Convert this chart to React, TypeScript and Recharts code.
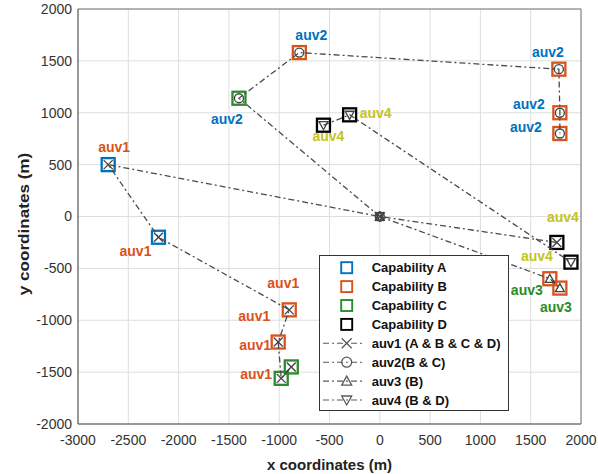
import {
	ScatterChart,
	Scatter,
	XAxis,
	YAxis,
	CartesianGrid,
	Label,
} from "recharts";

// axis ticks
const xTicks = [-3000, -2500, -2000, -1500, -1000, -500, 0, 500, 1000, 1500, 2000];
const yTicks = [-2000, -1500, -1000, -500, 0, 500, 1000, 1500, 2000];

// task locations by capability
const capabilityA = [
	{ x: -2700, y: 500 },
	{ x: -2200, y: -200 },
];
const capabilityB = [
	{ x: -900, y: -900 },
	{ x: -1010, y: -1210 },
	{ x: -800, y: 1580 },
	{ x: 1780, y: 1420 },
	{ x: 1790, y: 1000 },
	{ x: 1790, y: 800 },
	{ x: 1690, y: -600 },
	{ x: 1790, y: -690 },
];
const capabilityC = [
	{ x: -880, y: -1450 },
	{ x: -980, y: -1560 },
	{ x: -1400, y: 1140 },
];
const capabilityD = [
	{ x: -560, y: 880 },
	{ x: -300, y: 980 },
	{ x: 1760, y: -250 },
	{ x: 1900, y: -440 },
];

// vehicle routes
const auv1Route = [
	{ x: 1760, y: -250 },
	{ x: 0, y: 0 },
	{ x: -2700, y: 500 },
	{ x: -2200, y: -200 },
	{ x: -900, y: -900 },
	{ x: -1010, y: -1210 },
	{ x: -980, y: -1560 },
	{ x: -880, y: -1450 },
];
const auv2Route = [
	{ x: 0, y: 0 },
	{ x: -1400, y: 1140 },
	{ x: -800, y: 1580 },
	{ x: 1780, y: 1420 },
	{ x: 1790, y: 1000 },
	{ x: 1790, y: 800 },
];
const auv3Route = [
	{ x: 0, y: 0 },
	{ x: 1690, y: -600 },
	{ x: 1790, y: -690 },
];
const auv4Route = [
	{ x: -560, y: 880 },
	{ x: -300, y: 980 },
	{ x: 1900, y: -440 },
];
const auv4Start = [{ x: 0, y: 0 }];

// point labels
const pointLabels = [
	{ x: -2700, y: 500, text: "auv1" },
	{ x: -2200, y: -200, text: "auv1" },
	{ x: -900, y: -900, text: "auv1" },
	{ x: -900, y: -900, text: "auv1" },
	{ x: -1010, y: -1210, text: "auv1" },
	{ x: -980, y: -1560, text: "auv1" },
	{ x: -800, y: 1580, text: "auv2" },
	{ x: -1400, y: 1140, text: "auv2" },
	{ x: 1780, y: 1420, text: "auv2" },
	{ x: 1790, y: 1000, text: "auv2" },
	{ x: 1790, y: 800, text: "auv2" },
	{ x: -560, y: 880, text: "auv4" },
	{ x: -300, y: 980, text: "auv4" },
	{ x: 1760, y: -250, text: "auv4" },
	{ x: 1900, y: -440, text: "auv4" },
	{ x: 1690, y: -600, text: "auv3" },
	{ x: 1790, y: -690, text: "auv3" },
];
// pixel nudges for the labels above, same order
const labelNudge = [
	[6, -18], [-23, 14], [-6, -27], [-35, 6], [-23, 3], [-25, -4],
	[12, -18], [-12, 21], [-11, -17], [-31, -9], [-34, -7],
	[5, 11], [26, -2], [6, -25], [-34, -6],
	[-23, 11], [-4, 19],
];

const FONT = "'Liberation Sans', Arial, sans-serif";
const colA = "#0072BD";
const colB = "#D95319";
const colC = "#2a8c2a";
const colD = "#000000";
const labelColors: Record<string, string> = {
	auv1: "#D95319",
	auv2: "#0072BD",
	auv3: "#2a8c2a",
	auv4: "#c4c41c",
};
const glyphColor = "#404040";
const routeLine = {
	stroke: "#4a4a4a",
	strokeWidth: 1.3,
	strokeDasharray: "6 3 2 3",
};

const square = (color: string, size = 13) => (props: any) => {
	const { cx, cy } = props;
	if (cx == null || cy == null) return <g />;
	return (
		<rect
			x={cx - size / 2}
			y={cy - size / 2}
			width={size}
			height={size}
			fill="none"
			stroke={color}
			strokeWidth={2.3}
		/>
	);
};

const glyph = (kind: string, cx: number, cy: number, r = 4.5, color = glyphColor) => {
	if (kind === "x")
		return (
			<g stroke={color} strokeWidth={1.3}>
				<line x1={cx - r} y1={cy - r} x2={cx + r} y2={cy + r} />
				<line x1={cx - r} y1={cy + r} x2={cx + r} y2={cy - r} />
			</g>
		);
	if (kind === "o")
		return <circle cx={cx} cy={cy} r={r} fill="none" stroke={color} strokeWidth={1.3} />;
	if (kind === "up")
		return (
			<polygon
				points={`${cx},${cy - r} ${cx - r},${cy + r * 0.8} ${cx + r},${cy + r * 0.8}`}
				fill="none"
				stroke={color}
				strokeWidth={1.3}
			/>
		);
	return (
		<polygon
			points={`${cx},${cy + r} ${cx - r},${cy - r * 0.8} ${cx + r},${cy - r * 0.8}`}
			fill="none"
			stroke={color}
			strokeWidth={1.3}
		/>
	);
};

const glyphShape = (kind: string) => (props: any) => {
	const { cx, cy } = props;
	if (cx == null || cy == null) return <g />;
	return glyph(kind, cx, cy);
};

const LabelShape = (props: any) => {
	const { cx, cy, index, payload } = props;
	if (cx == null || cy == null) return <g />;
	const [dx, dy] = labelNudge[index] || [0, 0];
	return (
		<text
			x={cx + dx}
			y={cy + dy}
			textAnchor="middle"
			dominantBaseline="central"
			fontFamily={FONT}
			fontWeight="bold"
			fontSize={14}
			fill={labelColors[payload.text]}
		>
			{payload.text}
		</text>
	);
};

const legendItems = [
	{ kind: "sq", color: colA, text: "Capability A" },
	{ kind: "sq", color: colB, text: "Capability B" },
	{ kind: "sq", color: colC, text: "Capability C" },
	{ kind: "sq", color: colD, text: "Capability D" },
	{ kind: "x", color: "", text: "auv1 (A & B & C & D)" },
	{ kind: "o", color: "", text: "auv2(B & C)" },
	{ kind: "up", color: "", text: "auv3 (B)" },
	{ kind: "down", color: "", text: "auv4 (B & D)" },
];

const LegendBox = () => (
	<svg
		width={190}
		height={156}
		style={{ position: "absolute", left: 319, top: 255 }}
	>
		<rect x={0.5} y={0.5} width={189} height={155} fill="#fff" stroke="#333" strokeWidth={1} />
		{legendItems.map((item, i) => {
			const cy = 12.7 + i * 18.9;
			return (
				<g key={i}>
					{item.kind === "sq" ? (
						<rect x={22.2} y={cy - 5.5} width={11} height={11} fill="none" stroke={item.color} strokeWidth={1.9} />
					) : (
						<>
							<line x1={4} y1={cy} x2={44} y2={cy} {...routeLine} stroke="#5a5a5a" strokeWidth={1.1} />
							{glyph(item.kind, 27.7, cy, 5, "#5a5a5a")}
						</>
					)}
					<text
						x={52.7}
						y={cy}
						dominantBaseline="central"
						fontFamily={FONT}
						fontWeight="bold"
						fontSize={13}
						fill="#111"
					>
						{item.text}
					</text>
				</g>
			);
		})}
	</svg>
);

const tickStyle = { fontSize: 14, fill: "#333", fontFamily: FONT };

const YTitle = () => {
	const cx = 23;
	const cy = 224;
	return (
		<text
			transform={`translate(${cx},${cy}) rotate(-90) scale(1.14,1)`}
			textAnchor="middle"
			dominantBaseline="central"
			fontFamily={FONT}
			fontWeight="bold"
			fontSize={15}
			fill="#222"
		>
			y coordinates (m)
		</text>
	);
};

const App = () => {
	return (
		<div style={{ position: "absolute", left: 0, top: 0, width: 598, height: 474, background: "#fff" }}>
			<ScatterChart
				width={598}
				height={474}
				margin={{ top: 9, right: 17, bottom: 0, left: 8 }}
			>
				<CartesianGrid xAxisId="b" yAxisId="l" stroke="#dedede" />
				<XAxis
					xAxisId="b"
					type="number"
					dataKey="x"
					domain={[-3000, 2000]}
					ticks={xTicks}
					allowDataOverflow
					height={50}
					tickLine={false}
					tickMargin={5}
					axisLine={{ stroke: "#444" }}
					tick={tickStyle}
				>
					<Label
						value="x coordinates (m)"
						position="insideBottom"
						offset={4}
						style={{ fontFamily: FONT, fontWeight: "bold", fontSize: 15, fill: "#222" }}
					/>
				</XAxis>
				<XAxis
					xAxisId="bt"
					type="number"
					domain={[-3000, 2000]}
					ticks={xTicks}
					allowDataOverflow
					mirror
					tick={false}
					tickSize={5}
					tickLine={{ stroke: "#555" }}
					axisLine={false}
				/>
				<XAxis
					xAxisId="t"
					orientation="top"
					type="number"
					domain={[-3000, 2000]}
					ticks={xTicks}
					allowDataOverflow
					mirror
					tick={false}
					tickSize={5}
					tickLine={{ stroke: "#555" }}
					axisLine={{ stroke: "#777" }}
				/>
				<YAxis
					yAxisId="l"
					type="number"
					dataKey="y"
					domain={[-2000, 2000]}
					ticks={yTicks}
					allowDataOverflow
					width={70}
					tickLine={false}
					tickMargin={0}
					axisLine={{ stroke: "#444" }}
					tick={tickStyle}
					label={<YTitle />}
				/>
				<YAxis
					yAxisId="li"
					type="number"
					domain={[-2000, 2000]}
					ticks={yTicks}
					allowDataOverflow
					mirror
					tick={false}
					tickSize={5}
					tickLine={{ stroke: "#555" }}
					axisLine={false}
				/>
				<YAxis
					yAxisId="r"
					orientation="right"
					type="number"
					domain={[-2000, 2000]}
					ticks={yTicks}
					allowDataOverflow
					mirror
					tick={false}
					tickSize={5}
					tickLine={{ stroke: "#555" }}
					axisLine={{ stroke: "#777" }}
				/>

				<Scatter xAxisId="b" yAxisId="l" data={capabilityA} shape={square(colA)} isAnimationActive={false} />
				<Scatter xAxisId="b" yAxisId="l" data={capabilityB} shape={square(colB)} isAnimationActive={false} />
				<Scatter xAxisId="b" yAxisId="l" data={capabilityC} shape={square(colC)} isAnimationActive={false} />
				<Scatter xAxisId="b" yAxisId="l" data={capabilityD} shape={square(colD)} isAnimationActive={false} />

				<Scatter xAxisId="b" yAxisId="l" data={auv1Route} line={routeLine} lineType="joint" shape={glyphShape("x")} isAnimationActive={false} />
				<Scatter xAxisId="b" yAxisId="l" data={auv2Route} line={routeLine} lineType="joint" shape={glyphShape("o")} isAnimationActive={false} />
				<Scatter xAxisId="b" yAxisId="l" data={auv3Route} line={routeLine} lineType="joint" shape={glyphShape("up")} isAnimationActive={false} />
				<Scatter xAxisId="b" yAxisId="l" data={auv4Route} line={routeLine} lineType="joint" shape={glyphShape("down")} isAnimationActive={false} />
				<Scatter xAxisId="b" yAxisId="l" data={auv4Start} shape={glyphShape("down")} isAnimationActive={false} />

				<Scatter xAxisId="b" yAxisId="l" data={pointLabels} shape={LabelShape} isAnimationActive={false} />
			</ScatterChart>
			<LegendBox />
		</div>
	);
};

export default App;
